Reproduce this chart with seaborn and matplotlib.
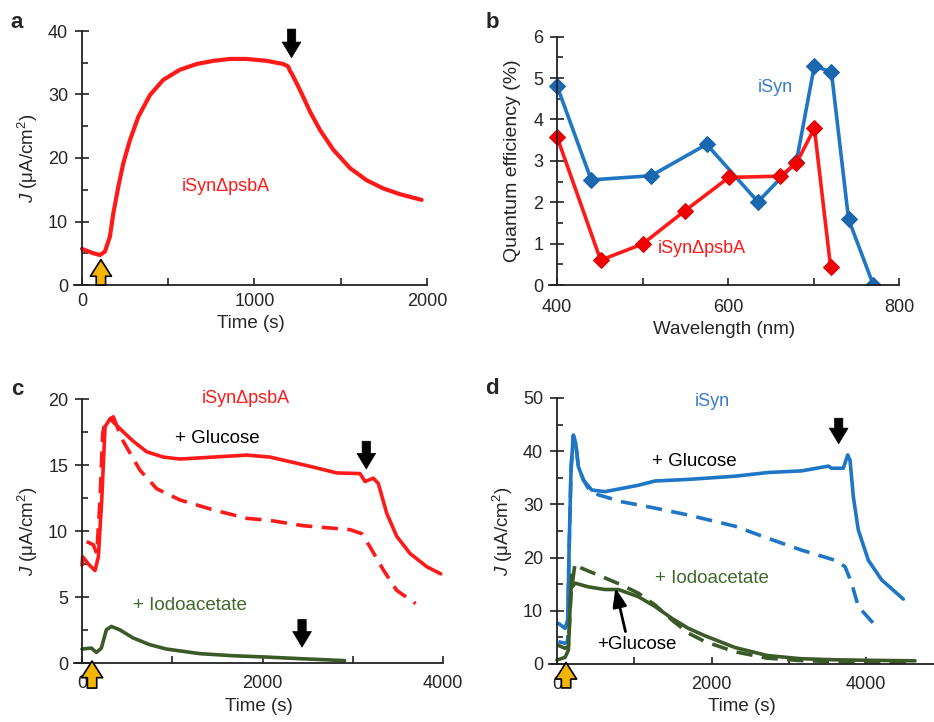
import matplotlib
matplotlib.use("Agg")
import matplotlib.pyplot as plt
from matplotlib.ticker import MultipleLocator
import seaborn as sns
import pandas as pd

# ---- panel a: photocurrent of iSynΔpsbA ----
a_time = [0, 8, 66, 104, 133, 162, 182, 211, 240, 278, 327, 394, 471, 568, 665, 761,
          858, 955, 1071, 1167, 1196, 1206, 1216, 1264, 1322, 1380, 1457, 1554, 1650,
          1747, 1843, 1969]
a_j = [5.7, 5.6, 5.0, 4.72, 5.25, 7.6, 11.3, 15.5, 19.2, 22.8, 26.5, 29.9, 32.3, 33.9,
       34.8, 35.3, 35.6, 35.6, 35.3, 34.8, 34.4, 33.7, 33.3, 30.7, 27.3, 24.4, 21.3,
       18.4, 16.5, 15.2, 14.3, 13.4]

# ---- panel b: quantum efficiency spectra ----
b_wl_isyn = [400, 440, 510, 575, 635, 680, 701, 721, 741, 770]
b_qe_isyn = [4.81, 2.54, 2.64, 3.40, 2.01, 2.98, 5.30, 5.14, 1.59, 0.0]
b_wl_psba = [400, 451, 500, 550, 601, 661, 680, 701, 720]
b_qe_psba = [3.58, 0.60, 0.99, 1.80, 2.60, 2.63, 2.94, 3.79, 0.43]

# ---- panel c: iSynΔpsbA with glucose / iodoacetate ----
c_time_glc = [0, 7, 70, 144, 181, 218, 255, 310, 347, 384, 458, 568, 717, 901, 1086,
              1455, 1825, 2083, 2305, 2526, 2822, 3080, 3136, 3228, 3283, 3376, 3487,
              3634, 3819, 3975]
c_j_glc = [7.4, 8.05, 7.5, 7.0, 8.05, 12.3, 17.9, 18.5, 18.65, 18.0, 17.5, 16.8, 16.0,
           15.6, 15.45, 15.6, 15.75, 15.6, 15.25, 14.9, 14.4, 14.35, 13.75, 14.0, 13.6,
           11.35, 9.6, 8.3, 7.3, 6.75]
c_time_ctl = [52, 125, 163, 199, 229, 255, 310, 384, 440, 532, 643, 828, 1086, 1455,
              1825, 2083, 2452, 2970, 3099, 3191, 3339, 3487, 3697]
c_j_ctl = [9.2, 8.95, 8.3, 12.3, 17.4, 18.3, 18.5, 18.0, 17.0, 15.9, 14.6, 13.2, 12.35,
           11.6, 10.96, 10.8, 10.4, 10.1, 9.8, 8.8, 7.05, 5.5, 4.5]
c_time_ioa = [0, 103, 159, 214, 270, 325, 417, 565, 750, 934, 1304, 1673, 2042, 2412, 2910]
c_j_ioa = [1.06, 1.13, 0.8, 1.13, 2.52, 2.77, 2.52, 1.9, 1.39, 1.06, 0.71, 0.55,
           0.45, 0.33, 0.18]

# ---- panel d: iSyn with glucose / iodoacetate ----
d_time_glc = [17, 104, 138, 155, 181, 211, 242, 276, 341, 449, 621, 837, 1053, 1269,
              1700, 2304, 2736, 3167, 3512, 3555, 3706, 3763, 3793, 3836, 3900, 4030,
              4203, 4483]
d_j_glc = [7.65, 6.7, 8.3, 20.8, 36.5, 43.0, 41.5, 37.1, 34.6, 32.7, 32.4, 33.0, 33.6,
           34.4, 34.7, 35.3, 36.0, 36.3, 37.2, 36.8, 36.8, 39.3, 38.3, 31.4, 25.2, 19.5,
           15.8, 12.2]
d_time_ctl = [17, 104, 138, 155, 181, 211, 242, 276, 341, 405, 535, 837, 1269, 1700,
              2304, 2736, 3167, 3599, 3728, 3814, 3900, 4095]
d_j_ctl = [4.2, 3.9, 4.3, 20.8, 36.5, 43.0, 41.5, 37.1, 34.6, 33.0, 31.8, 30.5, 29.3,
           28.0, 25.9, 23.6, 21.4, 19.5, 18.3, 15.2, 10.8, 7.65]
d_time_ioa_glc = [0, 104, 147, 168, 190, 198, 233, 405, 621, 794, 1053, 1269, 1485,
                  1700, 1916, 2304, 2718, 3150, 3581, 4013, 4634]
d_j_ioa_glc = [0.75, 1.25, 2.6, 10.2, 16.7, 14.5, 15.2, 14.5, 14.0, 14.0, 12.65, 10.8,
               8.6, 6.7, 5.3, 3.1, 1.6, 1.0, 0.8, 0.7, 0.6]
d_time_ioa = [0, 104, 147, 181, 233, 320, 535, 837, 1053, 1269, 1485, 1700, 1916,
              2304, 2718, 3150, 3581, 4639]
d_j_ioa = [3.6, 2.95, 3.3, 13.3, 18.9, 18.0, 16.7, 14.85, 13.3, 11.1, 8.3, 5.8, 4.2,
           2.3, 1.1, 0.65, 0.45, 0.25]

RED = "#ff1a1a"
BLUE = "#1f76c4"
GREEN = "#3b5a27"
GREEN_TXT = "#3f6a2b"
BLUE_TXT = "#3a7bd0"
YELLOW = "#f4b400"

sns.set_style("ticks")
plt.rcParams["font.family"] = ["Liberation Sans", "DejaVu Sans"]
plt.rcParams["mathtext.fontset"] = "custom"
plt.rcParams["mathtext.rm"] = "Liberation Sans"
plt.rcParams["mathtext.it"] = "Liberation Sans:italic"
plt.rcParams["font.size"] = 13
plt.rcParams["lines.solid_joinstyle"] = "round"
plt.rcParams["lines.solid_capstyle"] = "round"

fig = plt.figure(figsize=(9.34, 7.22), dpi=100)
W, H = 934, 722
TXT = 13.5


def px_axes(l, t, r, b):
    return fig.add_axes([l / W, 1 - b / H, (r - l) / W, (b - t) / H])


def style(ax, xmaj, xmin, ymaj, ymin, xpad):
    for s in ("top", "right"):
        ax.spines[s].set_visible(False)
    for s in ("left", "bottom"):
        ax.spines[s].set_linewidth(1.3)
        ax.spines[s].set_color("#222222")
    ax.xaxis.set_major_locator(MultipleLocator(xmaj))
    ax.xaxis.set_minor_locator(MultipleLocator(xmin))
    ax.yaxis.set_major_locator(MultipleLocator(ymaj))
    ax.yaxis.set_minor_locator(MultipleLocator(ymin))
    ax.tick_params(axis="y", which="major", direction="inout", length=10, width=1.2,
                   labelsize=13, pad=5, color="#222222")
    ax.tick_params(axis="y", which="minor", direction="in", length=4.5, width=1.2,
                   color="#222222")
    ax.tick_params(axis="x", which="both", direction="in", length=5, width=1.2,
                   labelsize=13, pad=xpad, color="#222222")
    ax.set_facecolor("none")


def down_arrow(ax, x, y_tail, y_tip):
    ax.annotate("", xy=(x, y_tip), xytext=(x, y_tail), annotation_clip=False,
                arrowprops=dict(arrowstyle="simple,head_width=0.9,head_length=0.75,tail_width=0.4",
                                fc="black", ec="black", lw=0.5, mutation_scale=15,
                                shrinkA=0, shrinkB=0))


def up_arrow(ax, x, y_tail, y_tip):
    ax.annotate("", xy=(x, y_tip), xytext=(x, y_tail), annotation_clip=False,
                arrowprops=dict(arrowstyle="simple,head_width=0.95,head_length=0.75,tail_width=0.42",
                                fc=YELLOW, ec="black", lw=1.2, mutation_scale=16,
                                shrinkA=0, shrinkB=0), zorder=10)


def dashed(ax):
    line = ax.lines[-1]
    line.set_dashes((4.5, 2.6))
    line.set_dash_capstyle("butt")


ylab = r"$J$ (μA/cm$^2$)"

# ---------------- a ----------------
ax = px_axes(74, 31, 427, 285)
sns.lineplot(data=pd.DataFrame({"t": a_time, "j": a_j}), x="t", y="j", ax=ax,
             color=RED, lw=3.0)
ax.set_xlim(-46, 2000)
ax.set_ylim(0, 40)
ax.spines["left"].set_position(("data", 0))
style(ax, 1000, 500, 10, 5, xpad=5.5)
ax.set_xlabel("Time (s)", fontsize=TXT, labelpad=4)
ax.set_ylabel(ylab, fontsize=TXT, labelpad=6)
ax.text(832, 15.5, "iSynΔpsbA", color=RED, fontsize=13, ha="center", va="center")
down_arrow(ax, 1215, 40.3, 35.8)
up_arrow(ax, 110, 0, 4.0)

# ---------------- b ----------------
ax = px_axes(549, 36.7, 899, 285)
sns.lineplot(x=b_wl_isyn, y=b_qe_isyn, ax=ax, color=BLUE, lw=2.6, marker="D",
             markersize=8, markeredgecolor="#1a62a8", markerfacecolor="#1a68b0")
sns.lineplot(x=b_wl_psba, y=b_qe_psba, ax=ax, color=RED, lw=2.6, marker="D",
             markersize=8, markeredgecolor="#e00000", markerfacecolor="#f00000")
ax.set_xlim(390.6, 800)
ax.set_ylim(0, 6)
ax.spines["left"].set_position(("data", 400))
style(ax, 200, 100, 1, 0.5, xpad=10)
ax.set_xlabel("Wavelength (nm)", fontsize=TXT, labelpad=4)
ax.set_ylabel("Quantum efficiency (%)", fontsize=14, labelpad=9)
ax.text(655, 4.78, "iSyn", color=BLUE_TXT, fontsize=13, ha="center", va="center")
ax.text(569, 0.89, "iSynΔpsbA", color=RED, fontsize=13, ha="center", va="center")

# ---------------- c ----------------
ax = px_axes(74, 399, 443, 663)
sns.lineplot(x=c_time_glc, y=c_j_glc, ax=ax, color=RED, lw=2.6)
sns.lineplot(x=c_time_ctl, y=c_j_ctl, ax=ax, color=RED, lw=2.6)
dashed(ax)
sns.lineplot(x=c_time_ioa, y=c_j_ioa, ax=ax, color=GREEN, lw=2.6)
ax.set_xlim(-89, 4000)
ax.set_ylim(0, 20)
ax.spines["left"].set_position(("data", 0))
style(ax, 2000, 1000, 5, 2.5, xpad=9)
ax.set_xlabel("Time (s)", fontsize=TXT, labelpad=4)
ax.set_ylabel(ylab, fontsize=TXT, labelpad=6)
ax.text(1810, 20.05, "iSynΔpsbA", color=RED, fontsize=13, ha="center", va="center")
ax.text(1496, 17.0, "+ Glucose", color="black", fontsize=TXT, ha="center", va="center")
ax.text(1193, 4.34, "+ Iodoacetate", color=GREEN_TXT, fontsize=TXT, ha="center", va="center")
down_arrow(ax, 3150, 16.8, 14.7)
down_arrow(ax, 2438, 3.3, 1.2)
up_arrow(ax, 111, -1.9, 0.15)

# ---------------- d ----------------
ax = px_axes(549, 398, 934, 664)
sns.lineplot(x=d_time_ctl, y=d_j_ctl, ax=ax, color=BLUE, lw=2.6)
dashed(ax)
sns.lineplot(x=d_time_glc, y=d_j_glc, ax=ax, color=BLUE, lw=2.6)
sns.lineplot(x=d_time_ioa, y=d_j_ioa, ax=ax, color=GREEN, lw=2.6)
dashed(ax)
sns.lineplot(x=d_time_ioa_glc, y=d_j_ioa_glc, ax=ax, color=GREEN, lw=2.6)
ax.set_xlim(-104, 4880)
ax.set_ylim(0, 50)
ax.spines["left"].set_position(("data", 0))
style(ax, 2000, 1000, 10, 5, xpad=8.5)
ax.set_xlabel("Time (s)", fontsize=TXT, labelpad=4)
ax.set_ylabel(ylab, fontsize=TXT, labelpad=6)
ax.text(2015, 49.4, "iSyn", color=BLUE_TXT, fontsize=13, ha="center", va="center")
ax.text(1778, 38.1, "+ Glucose", color="black", fontsize=TXT, ha="center", va="center")
ax.text(2006, 16.1, "+ Iodoacetate", color=GREEN_TXT, fontsize=TXT, ha="center", va="center")
ax.text(1036, 3.6, "+Glucose", color="black", fontsize=TXT, ha="center", va="center")
ax.annotate("", xy=(755, 14.3), xytext=(886, 6.1),
            arrowprops=dict(arrowstyle="-|>,head_width=0.3,head_length=0.8", lw=2,
                            color="black", mutation_scale=14, shrinkA=0, shrinkB=0))
down_arrow(ax, 3646, 46.2, 41.4)
up_arrow(ax, 117, -4.5, 0.3)

# panel letters
for letter, (x, y) in {"a": (17, 23), "b": (492, 23), "c": (17, 390), "d": (492, 388)}.items():
    fig.text(x / W, 1 - y / H, letter, fontsize=16, fontweight="bold",
             ha="center", va="center")

fig.savefig("out.png", dpi=100)
